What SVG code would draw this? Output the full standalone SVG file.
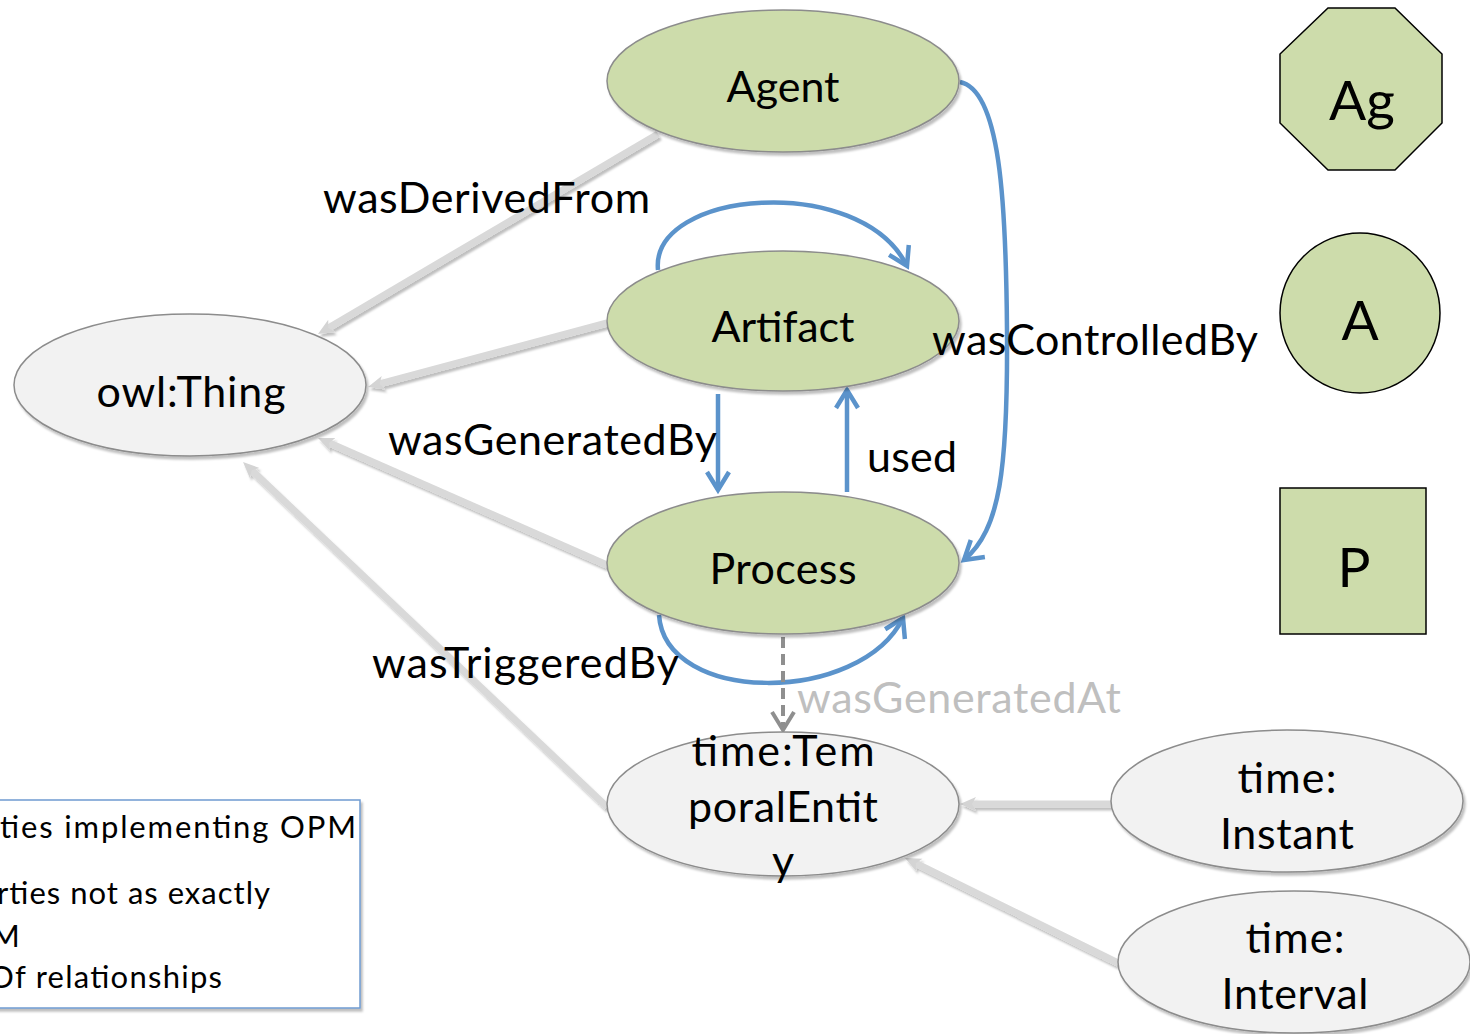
<svg xmlns="http://www.w3.org/2000/svg" width="1470" height="1034" viewBox="0 0 1470 1034">
  <defs>
    <style>
      text { font-family: Lato, "Liberation Sans", sans-serif; fill: #000; }
      .lbl { font-size: 43px; text-anchor: middle; }
      .elbl { font-size: 43px; }
      .green { fill: #cddcab; stroke: #8c8c8c; stroke-width: 1.5; }
      .grey { fill: #f2f2f2; stroke: #8c8c8c; stroke-width: 1.5; }
      .key { fill: #cddcab; stroke: #000; stroke-width: 1.5; }
      .sub { fill: none; stroke: #d9d9d9; stroke-width: 7; marker-end: url(#gHead); }
      .rel { fill: none; stroke: #5b93cb; stroke-width: 4.5; marker-end: url(#bHead); }
      .time { fill: none; stroke: #8f8f8f; stroke-width: 4; stroke-dasharray: 11 6; marker-end: url(#dHead); }
      .note { font-size: 31px; }
    </style>
    <filter id="shadow" x="-10%" y="-10%" width="125%" height="130%">
      <feDropShadow dx="2" dy="3" stdDeviation="1.2" flood-color="#000" flood-opacity="0.25"/>
    </filter>
    <marker id="gHead" viewBox="0 0 16 16" refX="6" refY="8" markerWidth="16" markerHeight="16" orient="auto" markerUnits="userSpaceOnUse">
      <path d="M0,1 L16,8 L0,15 L4,8 z" fill="#d4d4d4"/>
    </marker>
    <marker id="bHead" viewBox="-4 -15 26 30" refX="18" refY="0" markerWidth="26" markerHeight="30" orient="auto" markerUnits="userSpaceOnUse" overflow="visible">
      <path d="M0,-11 L18,0 L0,11" fill="none" stroke="#5b93cb" stroke-width="4.5" stroke-linejoin="miter"/>
    </marker>
    <marker id="dHead" viewBox="-4 -15 26 30" refX="18" refY="0" markerWidth="26" markerHeight="30" orient="auto" markerUnits="userSpaceOnUse" overflow="visible">
      <path d="M0,-11 L18,0 L0,11" fill="none" stroke="#8f8f8f" stroke-width="4"/>
    </marker>
  </defs>

  <rect width="1470" height="1034" fill="#fff"/>

  <!-- subclass links (grey) and relationship links (blue) -->
  <g id="connectors">
    <g filter="url(#shadow)">
      <line class="sub" x1="658" y1="134" x2="326.6" y2="328.9"/>
      <line class="sub" x1="607" y1="323" x2="377.7" y2="384.4"/>
      <line class="sub" x1="607" y1="565" x2="327.2" y2="442"/>
      <line class="sub" x1="607" y1="807" x2="250.3" y2="468.9"/>
      <line class="sub" x1="1111" y1="804" x2="970" y2="804"/>
      <line class="sub" x1="1118" y1="963" x2="914" y2="862.4"/>
    </g>
    <path class="rel" d="M658,270 C650,190 860,172 907,266"/>
    <line class="rel" x1="718" y1="394" x2="718" y2="490"/>
    <line class="rel" x1="847" y1="492" x2="847" y2="390"/>
    <path class="rel" d="M960,82 C1000,90 1006,200 1007,330 C1008,470 1000,530 964,560"/>
    <path class="rel" d="M659,615 C665,705 860,705 903,618"/>
    <line class="time" x1="783" y1="637" x2="783" y2="730"/>
  </g>

  <g id="node-agent">
    <ellipse class="green" cx="783" cy="81" rx="176" ry="71" filter="url(#shadow)"/>
    <text class="lbl" x="783" y="102" textLength="113">Agent</text>
  </g>
  <g id="node-artifact">
    <ellipse class="green" cx="783" cy="321" rx="176" ry="70" filter="url(#shadow)"/>
    <text class="lbl" x="783" y="342" textLength="143">Artifact</text>
  </g>
  <g id="node-process">
    <ellipse class="green" cx="783" cy="563" rx="176" ry="71" filter="url(#shadow)"/>
    <text class="lbl" x="783" y="584" textLength="147">Process</text>
  </g>
  <g id="node-thing">
    <ellipse class="grey" cx="190" cy="385" rx="176" ry="71" filter="url(#shadow)"/>
    <text class="lbl" x="191" y="407" textLength="189">owl:Thing</text>
  </g>
  <g id="node-temporal">
    <ellipse class="grey" cx="783" cy="804" rx="176" ry="72" filter="url(#shadow)"/>
    <text class="lbl" x="783" y="766" textLength="183">time:Tem</text>
    <text class="lbl" x="783" y="822" textLength="190">poralEntit</text>
    <text class="lbl" x="783" y="876">y</text>
  </g>
  <g id="node-instant">
    <ellipse class="grey" cx="1287" cy="801" rx="176" ry="71" filter="url(#shadow)"/>
    <text class="lbl" x="1287" y="793" textLength="99">time:</text>
    <text class="lbl" x="1287" y="849" textLength="134">Instant</text>
  </g>
  <g id="node-interval">
    <ellipse class="grey" cx="1294" cy="962" rx="176" ry="71" filter="url(#shadow)"/>
    <text class="lbl" x="1295" y="953" textLength="99">time:</text>
    <text class="lbl" x="1295" y="1009" textLength="147">Interval</text>
  </g>

  <!-- relationship labels -->
  <g id="edge-labels">
    <text class="elbl" x="323" y="213" textLength="327">wasDerivedFrom</text>
    <text class="elbl" x="388" y="455" textLength="329">wasGeneratedBy</text>
    <text class="elbl" x="867" y="472" textLength="90">used</text>
    <text class="elbl" x="932" y="355" textLength="326">wasControlledBy</text>
    <text class="elbl" x="372" y="678" textLength="307">wasTriggeredBy</text>
    <text class="elbl" x="797" y="713" textLength="324" style="fill:#bfbfbf">wasGeneratedAt</text>
  </g>

  <!-- shape key -->
  <g id="key-agent">
    <polygon class="key" points="1328,8 1395,8 1442,54 1442,123 1395,170 1328,170 1280,123 1280,54"/>
    <text x="1362" y="120" style="font-size:55px;text-anchor:middle">Ag</text>
  </g>
  <g id="key-artifact">
    <ellipse class="key" cx="1360" cy="313" rx="80" ry="80"/>
    <text x="1360" y="340" style="font-size:55px;text-anchor:middle">A</text>
  </g>
  <g id="key-process">
    <rect class="key" x="1280" y="488" width="146" height="146"/>
    <text x="1354" y="587" style="font-size:55px;text-anchor:middle">P</text>
  </g>

  <g id="note">
    <rect x="-4" y="800" width="364" height="208" fill="#fff" stroke="#6f9bd1" stroke-width="1.5" filter="url(#shadow)"/>
    <text class="note" x="0" y="838" textLength="356">ties implementing OPM</text>
    <text class="note" x="-3" y="904" textLength="273">rties not as exactly</text>
    <text class="note" x="-9" y="947">M</text>
    <text class="note" x="-11" y="988" textLength="233">Of relationships</text>
  </g>
</svg>
